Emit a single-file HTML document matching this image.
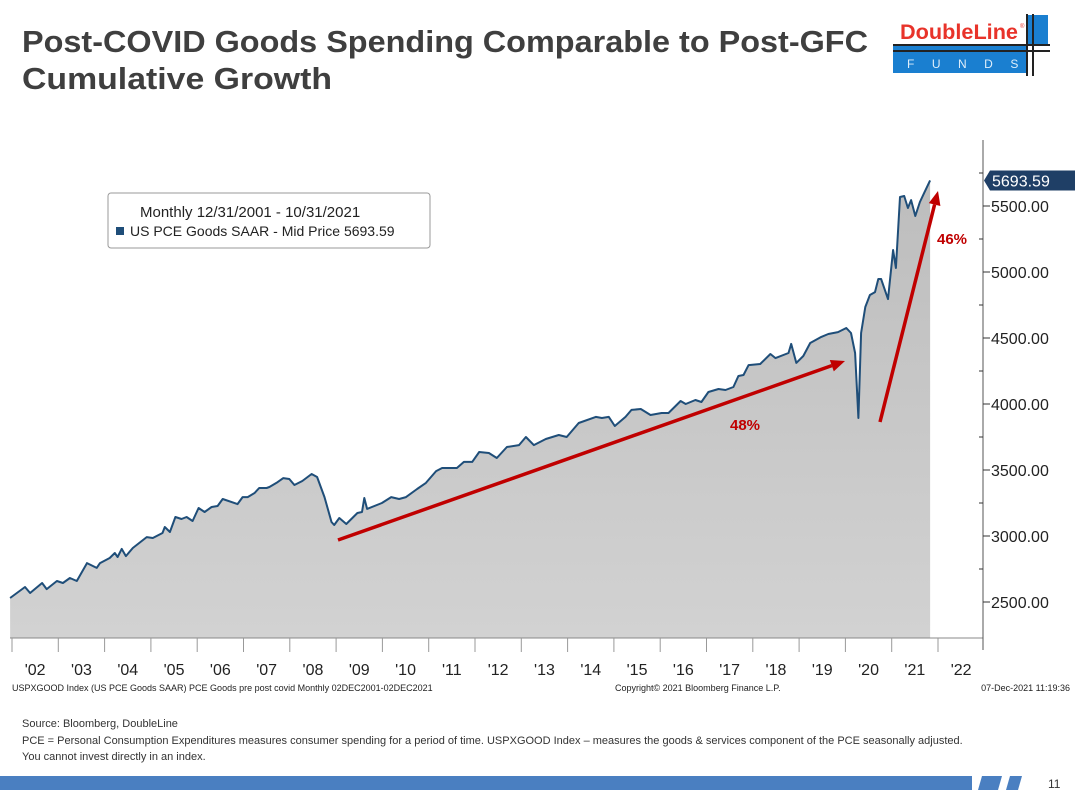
<!DOCTYPE html>
<html><head><meta charset="utf-8"><style>
body{margin:0;background:#fff;width:1080px;height:795px;overflow:hidden;font-family:"Liberation Sans",sans-serif}
svg text{font-family:"Liberation Sans",sans-serif}
</style></head><body>
<svg id="chart" width="1080" height="795" viewBox="0 0 1080 795" xmlns="http://www.w3.org/2000/svg">
<defs><linearGradient id="fillg" x1="0" y1="0" x2="0" y2="1"><stop offset="0" stop-color="#bdbdbd"/><stop offset="1" stop-color="#d2d2d2"/></linearGradient></defs>
<text x="22" y="52" font-size="31" font-weight="bold" fill="#3f3f3f" textLength="846" lengthAdjust="spacingAndGlyphs">Post-COVID Goods Spending Comparable to Post-GFC</text>
<text x="22" y="89" font-size="31" font-weight="bold" fill="#3f3f3f" textLength="310" lengthAdjust="spacingAndGlyphs">Cumulative Growth</text>
<g>
<text x="900" y="39" font-size="21" font-weight="bold" fill="#e8332a" textLength="118" lengthAdjust="spacingAndGlyphs">DoubleLine</text>
<text x="1020" y="28" font-size="6" fill="#e8332a">®</text>
<rect x="893" y="46" width="133" height="27" fill="#1a7fd0"/>
<rect x="1026" y="15" width="22" height="30" fill="#1a7fd0"/>
<rect x="893" y="44" width="157" height="2" fill="#222"/>
<rect x="893" y="50" width="157" height="2" fill="#222"/>
<rect x="1026" y="14" width="2" height="62" fill="#222"/>
<rect x="1032" y="14" width="2" height="62" fill="#222"/>
<text x="907" y="68" font-size="12" fill="#dfeefa" letter-spacing="17.5">FUNDS</text>
</g>
<g id="plot"></g>
<g>
<rect x="108" y="193" width="322" height="55" rx="3" fill="#fff" stroke="#999"/>
<text x="140" y="217" font-size="15" fill="#222">Monthly 12/31/2001 - 10/31/2021</text>
<rect x="116" y="227" width="8" height="8" fill="#1f4e79"/>
<text x="130" y="236" font-size="14" fill="#222">US PCE Goods SAAR - Mid Price 5693.59</text>
</g>
<text x="12" y="691" font-size="9" fill="#222">USPXGOOD Index (US PCE Goods SAAR) PCE Goods pre post covid  Monthly 02DEC2001-02DEC2021</text>
<text x="615" y="691" font-size="9" fill="#222">Copyright© 2021 Bloomberg Finance L.P.</text>
<text x="1070" y="691" font-size="9" fill="#222" text-anchor="end">07-Dec-2021 11:19:36</text>
<text x="22" y="727" font-size="11" fill="#333">Source: Bloomberg, DoubleLine</text>
<text x="22" y="744" font-size="11" fill="#333">PCE = Personal Consumption Expenditures measures consumer spending for a period of time. USPXGOOD Index – measures the goods &amp; services component of the PCE seasonally adjusted.</text>
<text x="22" y="760" font-size="11" fill="#333">You cannot invest directly in an index.</text>
<g>
<rect x="0" y="776" width="972" height="14" fill="#4a7fc1"/>
<polygon points="982,776 1002,776 998,790 978,790" fill="#4a7fc1"/>
<polygon points="1010,776 1022,776 1018,790 1006,790" fill="#4a7fc1"/>
</g>
<text x="1048" y="788" font-size="12" fill="#333">11</text>
</svg>
<script>
const dates=[2001.96,2002.28,2002.39,2002.65,2002.75,2002.97,2003.10,2003.25,2003.40,2003.62,2003.83,2003.90,2004.11,2004.22,2004.28,2004.37,2004.46,2004.61,2004.91,2005.04,2005.25,2005.30,2005.41,2005.53,2005.66,2005.77,2005.90,2006.03,2006.16,2006.31,2006.44,2006.55,2006.87,2006.98,2007.09,2007.24,2007.34,2007.50,2007.56,2007.71,2007.86,2007.99,2008.10,2008.27,2008.47,2008.59,2008.75,2008.90,2008.96,2009.07,2009.22,2009.46,2009.56,2009.61,2009.67,2009.99,2010.19,2010.36,2010.51,2010.75,2010.94,2011.16,2011.29,2011.61,2011.76,2011.94,2012.09,2012.30,2012.47,2012.69,2012.95,2013.10,2013.27,2013.53,2013.81,2013.98,2014.24,2014.61,2014.74,2014.89,2015.02,2015.25,2015.38,2015.58,2015.79,2016.03,2016.18,2016.44,2016.55,2016.76,2016.89,2017.04,2017.26,2017.41,2017.58,2017.69,2017.80,2017.91,2018.16,2018.38,2018.49,2018.77,2018.83,2018.94,2019.09,2019.24,2019.48,2019.63,2019.84,2020.02,2020.12,2020.21,2020.28,2020.34,2020.43,2020.53,2020.64,2020.71,2020.77,2020.92,2021.03,2021.09,2021.18,2021.27,2021.35,2021.42,2021.51,2021.61,2021.70,2021.83];
const values=[2530,2614,2568,2644,2598,2659,2644,2682,2659,2795,2758,2795,2833,2871,2841,2902,2848,2909,2992,2985,3023,3068,3030,3144,3129,3144,3114,3212,3182,3220,3227,3280,3242,3295,3295,3326,3364,3364,3371,3402,3439,3432,3386,3417,3470,3447,3295,3106,3083,3136,3091,3174,3182,3288,3205,3250,3295,3280,3295,3356,3402,3492,3515,3515,3561,3561,3636,3629,3591,3674,3689,3750,3689,3735,3765,3750,3856,3902,3894,3902,3833,3902,3955,3962,3917,3932,3932,4023,4000,4030,4015,4091,4114,4106,4129,4212,4220,4295,4303,4379,4348,4386,4455,4311,4364,4462,4508,4530,4545,4576,4538,4386,3894,4538,4735,4826,4848,4947,4947,4795,5167,5030,5568,5576,5485,5545,5424,5530,5598,5693.59];
const yTicks=[2500,3000,3500,4000,4500,5000,5500];
const yearLabels=["'02","'03","'04","'05","'06","'07","'08","'09","'10","'11","'12","'13","'14","'15","'16","'17","'18","'19","'20","'21","'22"];
const lastLabel="5693.59";
const NS="http://www.w3.org/2000/svg";
const X=t=>12+(t-2002)*46.3;
const Y=v=>206+(5500-v)*0.132;
const g=document.getElementById('plot');
function mk(tag,attrs){const e=document.createElementNS(NS,tag);for(const k in attrs)e.setAttribute(k,attrs[k]);g.appendChild(e);return e;}
const base=638;
let d='';dates.forEach((t,i)=>{d+=(i?'L':'M')+X(t).toFixed(1)+','+Y(values[i]).toFixed(1);});
const area=mk('path',{d:d+`L${X(dates[dates.length-1])},${base}L${X(dates[0])},${base}Z`,fill:'url(#fillg)'});


const line=mk('path',{d:d,fill:'none',stroke:'#1f4e79','stroke-width':2,'stroke-linejoin':'round'});


const xa=mk('line',{x1:10,y1:base,x2:983,y2:base,stroke:'#888'});


const ya=mk('line',{x1:983,y1:140,x2:983,y2:650,stroke:'#555'});


yearLabels.forEach((s,i)=>{
  const tx=X(2002+i);
  const tk=mk('line',{x1:tx,y1:base,x2:tx,y2:652,stroke:'#999'});
  
  
  const lb=mk('text',{x:X(2002.5+i),y:675,'font-size':16,fill:'#222','text-anchor':'middle'});lb.textContent=s;
  
  
});
yTicks.forEach(v=>{
  const tk=mk('line',{x1:983,y1:Y(v),x2:990,y2:Y(v),stroke:'#333'});
  
  
  const m=mk('line',{x1:979,y1:Y(v+250),x2:983,y2:Y(v+250),stroke:'#333'});
  
  
  const lb=mk('text',{x:991,y:Y(v)+6,'font-size':16,fill:'#222'});lb.textContent=v.toFixed(2);
  
  
});
const ly=Y(values[values.length-1]);
const tag=mk('polygon',{points:`984,${ly} 990,${ly-10} 1075,${ly-10} 1075,${ly+10} 990,${ly+10}`,fill:'#1f3f66'});


const tt=mk('text',{x:992,y:ly+6,'font-size':16,fill:'#fff'});tt.textContent=lastLabel;


function arrow(x1,y1,x2,y2,name){
  const a=Math.atan2(y2-y1,x2-x1),L=14,W=6;
  const bx=x2-L*Math.cos(a),by=y2-L*Math.sin(a);
  const l=mk('line',{x1:x1,y1:y1,x2:bx,y2:by,stroke:'#c00000','stroke-width':3.5});
  
  
  const h=mk('polygon',{points:`${x2},${y2} ${bx+W*Math.sin(a)},${by-W*Math.cos(a)} ${bx-W*Math.sin(a)},${by+W*Math.cos(a)}`,fill:'#c00000'});
  
  
}
arrow(338,540,845,361,'post-gfc-arrow');
arrow(880,422,938,191,'post-covid-arrow');
const t1=mk('text',{x:730,y:430,'font-size':15,'font-weight':'bold',fill:'#c00000'});t1.textContent='48%';


const t2=mk('text',{x:937,y:244,'font-size':15,'font-weight':'bold',fill:'#c00000'});t2.textContent='46%';


</script>
</body></html>
